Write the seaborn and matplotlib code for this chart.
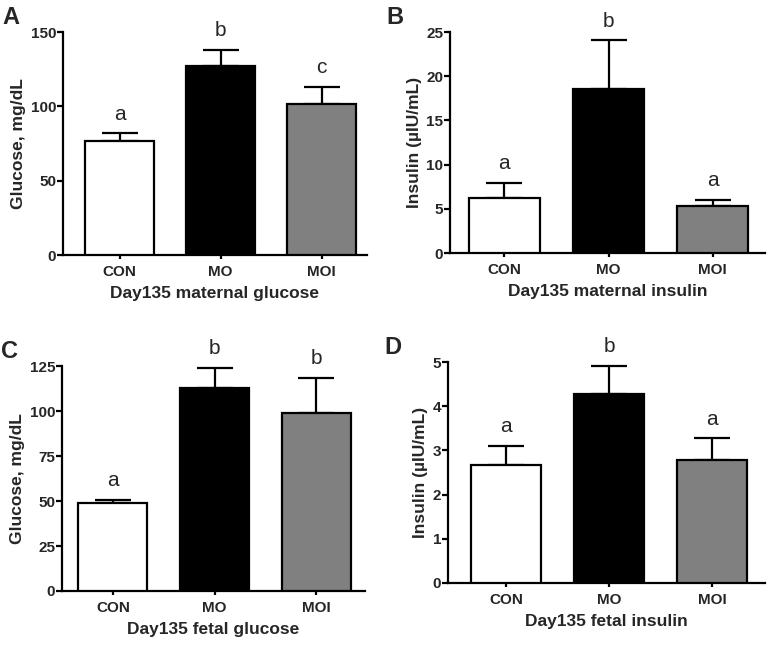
import numpy as np
import pandas as pd
import seaborn as sns
import matplotlib
matplotlib.use('Agg')
import matplotlib.pyplot as plt

groups = ['CON', 'MO', 'MOI']
bar_colors = ['white', 'black', '#808080']

mat_glucose = [76.8, 127.2, 101.8]
mat_glucose_sem = [5.0, 11.0, 11.2]
mat_glucose_let = ['a', 'b', 'c']

mat_insulin = [6.2, 18.6, 5.35]
mat_insulin_sem = [1.72, 5.45, 0.68]
mat_insulin_let = ['a', 'b', 'a']

fet_glucose = [49.1, 113.0, 99.0]
fet_glucose_sem = [1.7, 10.9, 19.6]
fet_glucose_let = ['a', 'b', 'b']

fet_insulin = [2.66, 4.28, 2.78]
fet_insulin_sem = [0.45, 0.64, 0.49]
fet_insulin_let = ['a', 'b', 'a']

sns.set_style('ticks')
plt.rcParams['font.family'] = ['Liberation Sans', 'DejaVu Sans']

W, H = 769, 648
fig = plt.figure(figsize=(W / 100, H / 100), dpi=100)


def box(l, r, t, b):
    return [l / W, 1 - b / H, (r - l) / W, (b - t) / H]


panels = [
    ('A', box(63, 367, 32, 255), mat_glucose, mat_glucose_sem, mat_glucose_let,
     'Glucose, mg/dL', 'Day135 maternal glucose', [0, 50, 100, 150], (-0.56, 2.45)),
    ('B', box(450, 765, 32, 253), mat_insulin, mat_insulin_sem, mat_insulin_let,
     'Insulin (µIU/mL)', 'Day135 maternal insulin', [0, 5, 10, 15, 20, 25], (-0.52, 2.5)),
    ('C', box(62, 365, 366, 591), fet_glucose, fet_glucose_sem, fet_glucose_let,
     'Glucose, mg/dL', 'Day135 fetal glucose', [0, 25, 50, 75, 100, 125], (-0.5, 2.48)),
    ('D', box(448, 765, 362, 583), fet_insulin, fet_insulin_sem, fet_insulin_let,
     'Insulin (µIU/mL)', 'Day135 fetal insulin', [0, 1, 2, 3, 4, 5], (-0.56, 2.51)),
]

for tag, pos, vals, sems, lets, ylab, xlab, yt, xl in panels:
    ax = fig.add_axes(pos)
    df = pd.DataFrame({'group': groups, 'value': vals})
    sns.barplot(data=df, x='group', y='value', hue='group', palette=bar_colors,
                edgecolor='black', linewidth=1.6, width=0.68, errorbar=None,
                legend=False, ax=ax, zorder=3)
    x = np.arange(len(groups))
    ax.errorbar(x, vals, yerr=[np.zeros(len(vals)), sems], fmt='none',
                ecolor='black', elinewidth=1.6, capsize=13, capthick=1.6, zorder=2)
    for xi, v, s, lt in zip(x, vals, sems, lets):
        ax.annotate(lt, (xi, v + s), xytext=(0, 7), textcoords='offset points',
                    ha='center', va='bottom', fontsize=15)
    ax.set_ylim(yt[0], yt[-1])
    ax.set_yticks(yt)
    ax.set_xlim(*xl)
    ax.set_xlabel(xlab, fontsize=12.5, fontweight='bold', labelpad=5)
    ax.set_ylabel(ylab, fontsize=12.5, fontweight='bold', labelpad=3)
    sns.despine(ax=ax)
    for sp in ['left', 'bottom']:
        ax.spines[sp].set_linewidth(1.6)
        ax.spines[sp].set_color('black')
    ax.tick_params(axis='y', length=4, width=1.6, labelsize=11, color='black', pad=1)
    ax.tick_params(axis='x', length=3, width=1.6, labelsize=11, color='black', pad=4)
    for lab in ax.get_xticklabels() + ax.get_yticklabels():
        lab.set_fontweight('bold')
    p = ax.get_position()
    fig.text(p.x0 - 61 / W if tag in 'AC' else p.x0 - 64 / W, p.y1 + 3 / H, tag,
             fontsize=17, fontweight='bold', va='bottom', ha='left')

fig.savefig('out.png', dpi=100, facecolor='white')
